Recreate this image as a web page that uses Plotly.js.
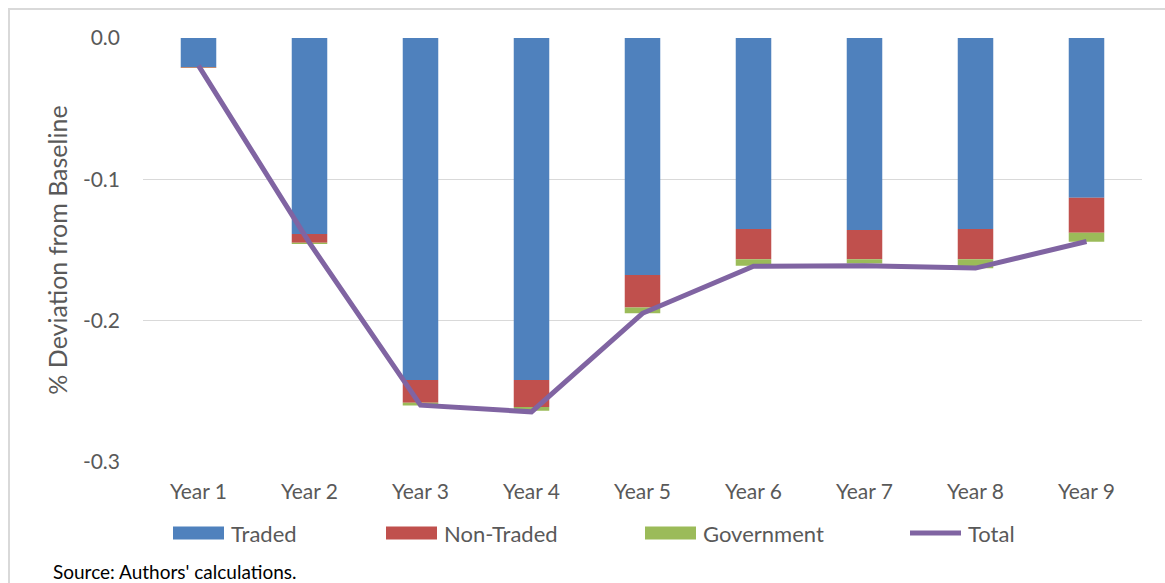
<!DOCTYPE html>
<html>
<head>
<meta charset="utf-8">
<script src="https://cdn.plot.ly/plotly-3.0.1.min.js"></script>
<style>
  html, body { margin: 0; padding: 0; background: #ffffff; }
  #frame { position: absolute; left: 8px; top: 8px; width: 1157px; height: 575px;
           border-top: 2px solid #d9d9d9; border-left: 2px solid #d9d9d9; box-sizing: border-box; pointer-events: none; z-index: 5; }
  #chart { position: absolute; left: 0; top: 0; width: 1165px; height: 583px; }
</style>
</head>
<body>
<div id="chart"></div>
<div id="frame"></div>
<script>
// ---- data ----
const years = ["Year 1", "Year 2", "Year 3", "Year 4", "Year 5", "Year 6", "Year 7", "Year 8", "Year 9"];
const traded     = [-0.0205, -0.1387, -0.2420, -0.2420, -0.1677, -0.1352, -0.1359, -0.1352, -0.1130];
const nonTraded  = [-0.0005, -0.0062, -0.0160, -0.0190, -0.0229, -0.0214, -0.0207, -0.0214, -0.0248];
const government = [-0.0002, -0.0009, -0.0020, -0.0027, -0.0042, -0.0045, -0.0029, -0.0064, -0.0064];
const total      = [-0.0195, -0.1450, -0.2598, -0.2645, -0.1948, -0.1615, -0.1612, -0.1628, -0.1440];
const seriesNames = ["Traded", "Non-Traded", "Government", "Total"];
const yTickValues = [0, -0.1, -0.2, -0.3];
const yTickLabels = ["0.0", "-0.1", "-0.2", "-0.3"];

const FONT = "Lato, 'Open Sans', sans-serif";
const GREY = "#595959";
const COLORS = ["#4F81BD", "#C0504D", "#9BBB59", "#8064A2"];

const traces = [
  { type: "bar", name: seriesNames[0], x: years, y: traded, marker: { color: COLORS[0] }, hoverinfo: "skip" },
  { type: "bar", name: seriesNames[1], x: years, y: nonTraded, marker: { color: COLORS[1] }, hoverinfo: "skip" },
  { type: "bar", name: seriesNames[2], x: years, y: government, marker: { color: COLORS[2] }, hoverinfo: "skip" },
  { type: "scatter", mode: "lines", name: seriesNames[3], x: years, y: total, line: { color: COLORS[3], width: 5 }, hoverinfo: "skip" }
];

// ---- plot geometry (pixels) ----
const M = { l: 143, r: 23, t: 37, b: 120 };
const W = 1165, H = 583;
const PW = W - M.l - M.r, PH = H - M.t - M.b;
const px2x = p => (p - M.l) / PW;
const py2y = p => (H - M.b - p) / PH;

// Excel-style legend below the chart: wide swatches, text to the right
const legendLeft = [173, 386, 645, 910];
const swatchW = 51, swatchH = 13, legendMid = 533;
const shapes = [];
const annotations = [];
seriesNames.forEach((name, i) => {
  const x0 = px2x(legendLeft[i]), x1 = px2x(legendLeft[i] + swatchW);
  if (i < 3) {
    shapes.push({ type: "rect", xref: "paper", yref: "paper",
      x0: x0, x1: x1, y0: py2y(legendMid + swatchH / 2), y1: py2y(legendMid - swatchH / 2),
      fillcolor: COLORS[i], line: { width: 0 } });
  } else {
    shapes.push({ type: "line", xref: "paper", yref: "paper",
      x0: x0, x1: x1, y0: py2y(legendMid), y1: py2y(legendMid),
      line: { color: COLORS[i], width: 5 } });
  }
  annotations.push({ text: name, xref: "paper", yref: "paper",
    x: px2x(legendLeft[i] + swatchW + 5), y: py2y(legendMid), xanchor: "left", yanchor: "middle",
    showarrow: false, font: { family: FONT, size: 22, color: GREY } });
});
annotations.push({ text: "Source: Authors' calculations.", xref: "paper", yref: "paper",
  x: px2x(51), y: py2y(571), xanchor: "left", yanchor: "middle", showarrow: false,
  font: { family: FONT, size: 19, color: "#000000" } });

const layout = {
  width: W, height: H,
  margin: M,
  paper_bgcolor: "#ffffff", plot_bgcolor: "#ffffff",
  barmode: "relative",
  bargap: 0.68,
  font: { family: FONT, color: GREY, size: 21 },
  showlegend: false,
  xaxis: {
    type: "category",
    showgrid: false, zeroline: false, showline: false, ticks: "",
    tickfont: { family: FONT, size: 21, color: GREY },
    ticklabelstandoff: 14,
    automargin: false
  },
  yaxis: {
    range: [-0.3007, 0.0007],
    tickvals: yTickValues, ticktext: yTickLabels,
    showgrid: true, gridcolor: "#d9d9d9", gridwidth: 1.5,
    zeroline: false, showline: false, ticks: "",
    tickfont: { family: FONT, size: 21, color: GREY },
    ticklabelstandoff: 22,
    automargin: false,
    title: { text: "% Deviation from Baseline", font: { family: FONT, size: 25, color: GREY }, standoff: 8 }
  },
  shapes: shapes,
  annotations: annotations
};

Plotly.newPlot("chart", traces, layout, { staticPlot: true, displayModeBar: false });
</script>
</body>
</html>
